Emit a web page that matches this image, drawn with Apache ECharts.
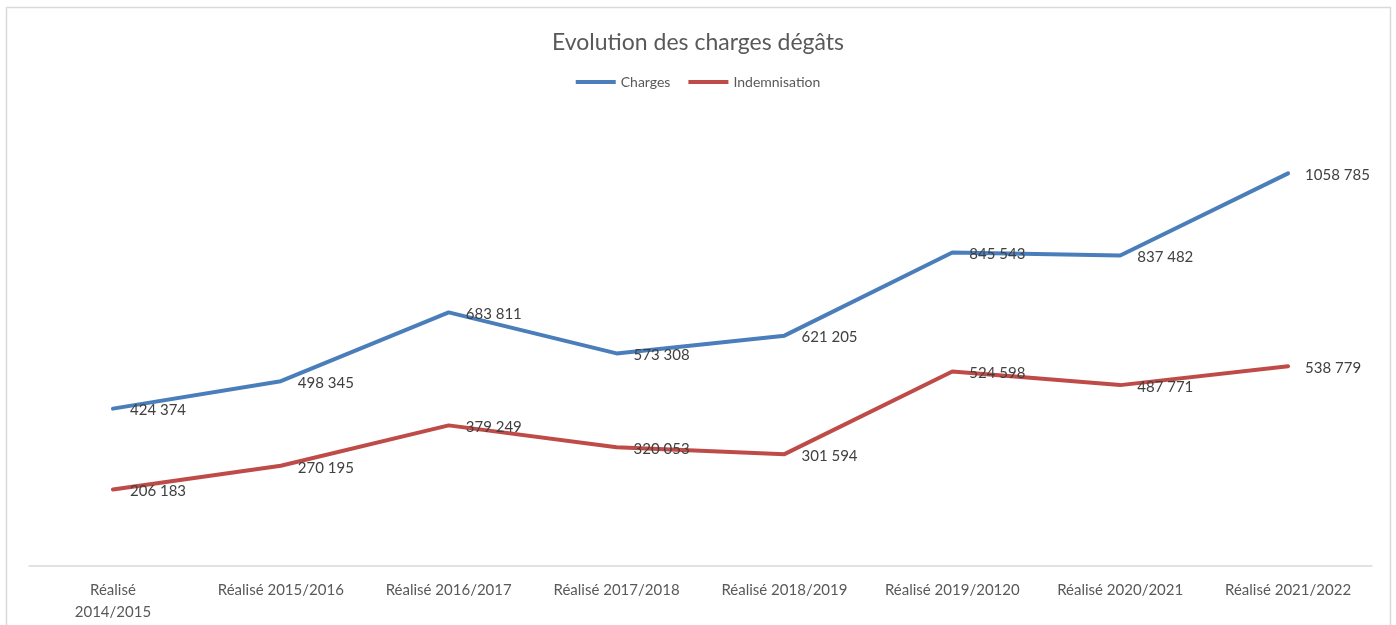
<!DOCTYPE html>
<html>
<head>
<meta charset="utf-8">
<script src="https://cdn.jsdelivr.net/npm/echarts@6/dist/echarts.min.js"></script>
<style>
  html, body { margin: 0; padding: 0; background: #fff; }
  #chart { width: 1396px; height: 625px; }
</style>
</head>
<body>
<div id="chart"></div>
<script>
const categories = [
  "Réalisé\n2014/2015",
  "Réalisé 2015/2016",
  "Réalisé 2016/2017",
  "Réalisé 2017/2018",
  "Réalisé 2018/2019",
  "Réalisé 2019/20120",
  "Réalisé 2020/2021",
  "Réalisé 2021/2022",
];
const charges = [424374, 498345, 683811, 573308, 621205, 845543, 837482, 1058785];
const indemnisation = [206183, 270195, 379249, 320053, 301594, 524598, 487771, 538779];

const fmt = (v) => {
  const hi = Math.floor(v / 1000);
  const lo = String(v % 1000).padStart(3, "0");
  return hi + " " + lo;
};

const chart = echarts.init(document.getElementById("chart"));

const labelStyle = {
  show: true,
  position: "right",
  distance: 17,
  offset: [0, 2],
  color: "#404040",
  fontSize: 15,
  fontFamily: "Lato",
  formatter: (p) => fmt(p.value),
};

const option = {
  animation: false,
  textStyle: { fontFamily: "Lato" },
  title: {
    text: "Evolution des charges dégâts",
    left: "center",
    top: 26,
    textStyle: { color: "#595959", fontSize: 23, fontWeight: "normal", fontFamily: "Lato" },
  },
  legend: {
    top: 70,
    left: "center",
    icon: "rect",
    itemWidth: 40,
    itemHeight: 4,
    itemGap: 18,
    textStyle: { color: "#595959", fontSize: 14, fontFamily: "Lato" },
  },
  graphic: [
    {
      type: "rect",
      shape: { x: 6.5, y: 7.5, width: 1384, height: 640 },
      style: { fill: "none", stroke: "#d9d9d9", lineWidth: 1.5 },
      silent: true,
    },
  ],
  grid: { left: 29, right: 24, top: 121, bottom: 59 },
  xAxis: {
    type: "category",
    data: categories,
    boundaryGap: true,
    axisLine: { lineStyle: { color: "#d9d9d9", width: 1.5 } },
    axisTick: { show: false },
    axisLabel: { color: "#595959", fontSize: 15, margin: 13, interval: 0, lineHeight: 22, fontFamily: "Lato" },
  },
  yAxis: {
    type: "value",
    min: 0,
    max: 1200000,
    show: false,
    splitLine: { show: false },
  },
  series: [
    {
      name: "Charges",
      type: "line",
      data: charges,
      symbol: "circle",
      symbolSize: 0.1,
      color: "#4A7EBB",
      lineStyle: { width: 4, color: "#4A7EBB", cap: "round" },
      label: labelStyle,
    },
    {
      name: "Indemnisation",
      type: "line",
      data: indemnisation,
      symbol: "circle",
      symbolSize: 0.1,
      color: "#BE4B48",
      lineStyle: { width: 4, color: "#BE4B48", cap: "round" },
      label: labelStyle,
    },
  ],
};

chart.setOption(option);
</script>
</body>
</html>
